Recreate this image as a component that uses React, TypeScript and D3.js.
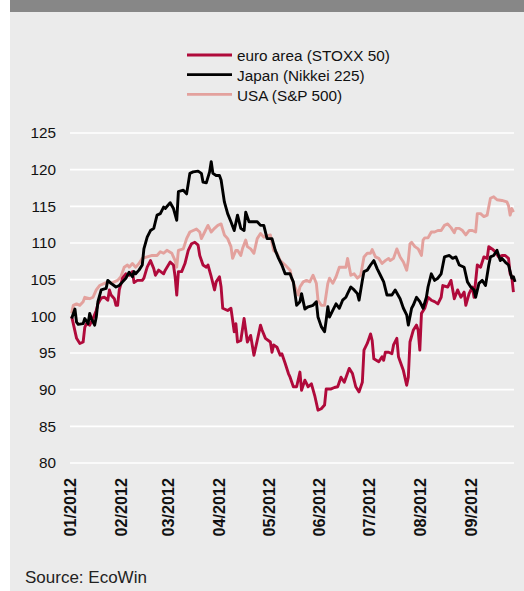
import React from "react";
import * as d3 from "d3";

// Index levels (date MM-DD in 2012, value)
const euroArea: [string, number][] = [
  ["01-02", 100.0], ["01-03", 99.0], ["01-05", 97.0], ["01-07", 96.3], ["01-09", 96.5],
  ["01-10", 98.5], ["01-11", 99.0], ["01-13", 98.8], ["01-15", 99.7], ["01-17", 100.8],
  ["01-18", 101.7], ["01-20", 102.5], ["01-22", 102.6], ["01-24", 102.2], ["01-25", 103.6],
  ["01-26", 102.9], ["01-28", 102.4], ["01-29", 101.5], ["01-30", 101.5], ["01-31", 103.6],
  ["02-02", 105.2], ["02-04", 105.8], ["02-06", 105.6], ["02-08", 106.1], ["02-09", 104.6],
  ["02-11", 104.9], ["02-14", 104.9], ["02-15", 105.2], ["02-17", 106.7], ["02-19", 107.6],
  ["02-21", 106.5], ["02-22", 105.6], ["02-24", 106.3], ["02-27", 105.8], ["02-28", 106.3],
  ["03-02", 107.4], ["03-04", 107.0], ["03-05", 105.4], ["03-06", 102.9], ["03-07", 106.1],
  ["03-09", 106.1], ["03-11", 107.2], ["03-13", 109.0], ["03-15", 109.9], ["03-17", 110.1],
  ["03-19", 109.7], ["03-20", 108.3], ["03-22", 107.0], ["03-24", 106.7], ["03-25", 107.0],
  ["03-27", 105.4], ["03-29", 103.6], ["03-30", 104.7], ["04-01", 105.4], ["04-02", 104.0],
  ["04-03", 101.1], ["04-06", 100.8], ["04-08", 101.1], ["04-10", 97.9], ["04-11", 99.0],
  ["04-12", 96.5], ["04-14", 96.7], ["04-16", 99.7], ["04-18", 96.5], ["04-20", 97.4],
  ["04-22", 94.7], ["04-24", 96.7], ["04-26", 98.8], ["04-27", 98.1], ["04-29", 97.0],
  ["05-02", 96.5], ["05-03", 95.1], ["05-04", 96.1], ["05-06", 95.8], ["05-08", 94.7],
  ["05-09", 94.9], ["05-11", 93.6], ["05-13", 92.2], ["05-14", 91.7], ["05-16", 90.4],
  ["05-18", 90.4], ["05-20", 92.4], ["05-21", 89.9], ["05-23", 91.3], ["05-25", 90.4],
  ["05-27", 90.8], ["05-29", 89.2], ["05-31", 87.2], ["06-02", 87.4], ["06-04", 87.9],
  ["06-05", 90.1], ["06-08", 90.1], ["06-10", 90.3], ["06-12", 90.4], ["06-14", 91.7],
  ["06-16", 91.0], ["06-19", 92.9], ["06-21", 92.2], ["06-23", 90.4], ["06-25", 89.7],
  ["06-27", 91.0], ["06-28", 95.4], ["06-30", 96.3], ["07-02", 97.6], ["07-03", 96.7],
  ["07-04", 94.2], ["07-07", 93.8], ["07-09", 94.5], ["07-10", 94.0], ["07-11", 95.1],
  ["07-13", 95.1], ["07-15", 94.9], ["07-16", 96.1], ["07-18", 97.0], ["07-19", 94.5],
  ["07-22", 92.6], ["07-24", 90.6], ["07-25", 91.7], ["07-26", 96.5], ["07-28", 98.1],
  ["07-30", 98.8], ["07-31", 98.1], ["08-01", 95.4], ["08-02", 100.4], ["08-04", 101.1],
  ["08-06", 102.6], ["08-08", 102.2], ["08-10", 102.0], ["08-12", 101.7], ["08-14", 102.6],
  ["08-15", 104.2], ["08-18", 104.0], ["08-20", 104.9], ["08-22", 102.4], ["08-24", 103.6],
  ["08-26", 102.6], ["08-28", 103.3], ["08-29", 101.5], ["08-31", 103.1], ["09-02", 104.0],
  ["09-03", 102.6], ["09-05", 107.0], ["09-07", 106.7], ["09-09", 108.1], ["09-11", 107.9],
  ["09-12", 109.5], ["09-14", 109.2], ["09-16", 108.8], ["09-18", 108.1], ["09-20", 108.3],
  ["09-22", 108.3], ["09-24", 107.9], ["09-25", 105.8], ["09-26", 105.4], ["09-27", 103.3],
];

const japan: [string, number][] = [
  ["01-02", 99.7], ["01-04", 101.0], ["01-05", 99.2], ["01-06", 98.9], ["01-09", 99.0],
  ["01-10", 99.7], ["01-12", 99.0], ["01-13", 100.4], ["01-14", 99.7], ["01-16", 98.8],
  ["01-17", 99.9], ["01-18", 102.0], ["01-20", 103.6], ["01-23", 103.8], ["01-24", 104.9],
  ["01-26", 104.5], ["01-29", 104.0], ["01-31", 104.2], ["02-02", 104.7], ["02-04", 105.2],
  ["02-06", 106.0], ["02-08", 105.4], ["02-09", 106.1], ["02-10", 105.8], ["02-12", 106.3],
  ["02-14", 107.0], ["02-15", 109.2], ["02-17", 110.8], ["02-19", 111.7], ["02-21", 112.0],
  ["02-22", 112.9], ["02-23", 113.8], ["02-25", 114.0], ["02-27", 114.9], ["02-28", 114.7],
  ["03-02", 115.5], ["03-04", 114.7], ["03-06", 113.1], ["03-07", 117.0], ["03-10", 117.2],
  ["03-12", 116.7], ["03-14", 119.5], ["03-16", 119.7], ["03-19", 119.8], ["03-21", 119.5],
  ["03-22", 118.3], ["03-24", 118.2], ["03-26", 119.7], ["03-27", 121.1], ["03-28", 119.5],
  ["03-30", 119.2], ["04-01", 119.2], ["04-02", 118.6], ["04-04", 115.6], ["04-06", 114.0],
  ["04-08", 112.9], ["04-10", 111.7], ["04-12", 113.8], ["04-14", 112.0], ["04-16", 111.7],
  ["04-17", 114.2], ["04-19", 112.9], ["04-22", 112.9], ["04-24", 112.9], ["04-26", 112.4],
  ["04-28", 112.4], ["04-30", 110.6], ["05-03", 110.6], ["05-05", 109.0], ["05-07", 107.9],
  ["05-09", 107.0], ["05-11", 105.8], ["05-14", 105.8], ["05-15", 105.2], ["05-16", 104.7],
  ["05-18", 101.5], ["05-20", 102.0], ["05-21", 103.1], ["05-23", 101.0], ["05-25", 101.3],
  ["05-28", 101.5], ["05-30", 102.0], ["05-31", 99.9], ["06-02", 98.6], ["06-04", 97.9],
  ["06-05", 99.5], ["06-06", 101.3], ["06-07", 99.9], ["06-09", 100.8], ["06-11", 101.7],
  ["06-13", 101.1], ["06-15", 102.2], ["06-17", 102.6], ["06-18", 103.1], ["06-20", 104.0],
  ["06-22", 103.6], ["06-24", 103.1], ["06-25", 102.2], ["06-27", 104.9], ["06-28", 106.1],
  ["06-30", 106.3], ["07-02", 107.0], ["07-04", 107.6], ["07-06", 106.5], ["07-08", 105.6],
  ["07-10", 104.7], ["07-12", 102.9], ["07-15", 102.9], ["07-17", 103.6], ["07-20", 102.4],
  ["07-22", 101.1], ["07-24", 100.2], ["07-25", 98.8], ["07-27", 101.1], ["07-28", 101.5],
  ["07-30", 102.6], ["08-01", 102.0], ["08-03", 101.1], ["08-05", 102.6], ["08-06", 104.0],
  ["08-08", 105.8], ["08-10", 104.9], ["08-12", 105.2], ["08-14", 105.8], ["08-16", 108.1],
  ["08-19", 108.3], ["08-21", 107.9], ["08-23", 108.1], ["08-25", 107.0], ["08-28", 106.7],
  ["08-30", 104.7], ["09-01", 104.0], ["09-03", 103.6], ["09-04", 102.6], ["09-06", 104.5],
  ["09-08", 104.9], ["09-10", 104.2], ["09-12", 107.0], ["09-13", 108.1], ["09-15", 108.3],
  ["09-17", 109.0], ["09-19", 107.6], ["09-20", 107.9], ["09-22", 107.4], ["09-24", 107.0],
  ["09-26", 105.2], ["09-27", 105.4], ["09-28", 104.7],
];

const usa: [string, number][] = [
  ["01-02", 100.4], ["01-03", 101.5], ["01-05", 101.7], ["01-07", 101.5], ["01-09", 102.0],
  ["01-10", 102.6], ["01-13", 102.4], ["01-15", 102.6], ["01-17", 103.6], ["01-19", 104.2],
  ["01-22", 104.5], ["01-24", 104.7], ["01-26", 104.5], ["01-28", 104.7], ["01-30", 104.9],
  ["02-01", 105.4], ["02-03", 106.7], ["02-05", 107.0], ["02-06", 106.7], ["02-08", 107.2],
  ["02-10", 106.7], ["02-12", 107.2], ["02-14", 107.9], ["02-17", 108.1], ["02-20", 108.3],
  ["02-23", 108.3], ["02-25", 108.8], ["02-27", 108.6], ["02-29", 109.0], ["03-03", 108.6],
  ["03-05", 107.6], ["03-06", 106.7], ["03-07", 109.0], ["03-10", 109.2], ["03-12", 110.6],
  ["03-14", 111.5], ["03-16", 111.7], ["03-18", 111.9], ["03-20", 111.5], ["03-21", 110.6],
  ["03-23", 111.5], ["03-25", 112.4], ["03-27", 111.5], ["03-29", 112.0], ["03-31", 112.4],
  ["04-02", 112.6], ["04-04", 111.1], ["04-06", 110.6], ["04-08", 109.5], ["04-09", 107.9],
  ["04-11", 109.0], ["04-12", 109.0], ["04-14", 108.3], ["04-15", 109.2], ["04-17", 110.4],
  ["04-18", 109.5], ["04-20", 109.2], ["04-22", 108.6], ["04-24", 110.6], ["04-26", 111.3],
  ["04-28", 110.8], ["05-02", 111.1], ["05-04", 109.0], ["05-06", 108.6], ["05-08", 107.6],
  ["05-11", 107.0], ["05-14", 106.3], ["05-15", 105.2], ["05-17", 104.0], ["05-19", 102.9],
  ["05-20", 104.0], ["05-22", 104.7], ["05-24", 104.9], ["05-26", 104.7], ["05-28", 105.6],
  ["05-30", 104.5], ["05-31", 102.2], ["06-02", 101.5], ["06-04", 101.5], ["06-06", 104.5],
  ["06-07", 105.2], ["06-09", 104.5], ["06-11", 105.4], ["06-13", 106.7], ["06-15", 106.7],
  ["06-17", 106.7], ["06-18", 107.9], ["06-20", 105.6], ["06-22", 105.8], ["06-24", 105.2],
  ["06-26", 105.6], ["06-28", 108.1], ["06-30", 108.6], ["07-02", 108.6], ["07-03", 109.1],
  ["07-05", 108.1], ["07-07", 107.9], ["07-09", 107.2], ["07-11", 107.6], ["07-13", 107.9],
  ["07-14", 107.6], ["07-16", 107.9], ["07-18", 109.2], ["07-20", 108.1], ["07-22", 107.4],
  ["07-24", 106.3], ["07-25", 107.6], ["07-26", 109.9], ["07-27", 110.1], ["07-29", 109.5],
  ["07-31", 109.2], ["08-02", 108.3], ["08-03", 110.4], ["08-04", 110.7], ["08-06", 110.7],
  ["08-08", 111.5], ["08-10", 111.5], ["08-12", 111.7], ["08-14", 111.7], ["08-16", 112.4],
  ["08-18", 112.6], ["08-20", 112.1], ["08-22", 111.4], ["08-23", 112.0], ["08-25", 112.0],
  ["08-27", 111.7], ["08-29", 111.1], ["08-31", 111.7], ["09-02", 111.7], ["09-04", 111.5],
  ["09-05", 114.0], ["09-07", 114.0], ["09-09", 113.6], ["09-11", 113.8], ["09-13", 116.1],
  ["09-15", 116.3], ["09-17", 115.9], ["09-20", 115.8], ["09-23", 115.6], ["09-24", 115.1],
  ["09-25", 113.8], ["09-26", 114.7], ["09-27", 114.2],
];

const seriesNames = ["euro area (STOXX 50)", "Japan (Nikkei 225)", "USA (S&P 500)"];
const seriesColors = ["#b00a3b", "#000000", "#e3a19d"];
const yTicks = [80, 85, 90, 95, 100, 105, 110, 115, 120, 125];

const W = 524;
const H = 591;
const font = "'Liberation Sans', Arial, Helvetica, sans-serif";

const parse = (s: string) => {
  const [m, d] = s.split("-").map(Number);
  return new Date(2012, m - 1, d);
};

export default function App() {
  const x = d3
    .scaleTime()
    .domain([new Date(2012, 0, 1), new Date(2012, 9, 1)])
    .range([70, 520]);
  const y = d3.scaleLinear().domain([80, 125]).range([463, 133]);
  const monthTicks = d3.timeMonth.range(new Date(2012, 0, 1), new Date(2012, 9, 1));
  const fmt = d3.timeFormat("%m/%Y");

  const line = d3
    .line<[string, number]>()
    .x((d) => x(parse(d[0])))
    .y((d) => y(d[1]));

  // draw order: USA behind, then euro area, Japan on top
  const layers = [
    { data: usa, color: seriesColors[2] },
    { data: euroArea, color: seriesColors[0] },
    { data: japan, color: seriesColors[1] },
  ];

  return (
    <div style={{ position: "absolute", left: 0, top: 0 }}>
      <svg width={W} height={H} style={{ display: "block" }}>
        <rect x={0} y={0} width={W} height={H} fill="#ffffff" />
        <rect x={10} y={0} width={W - 10} height={H} fill="#ebebeb" />
        <rect x={10} y={0} width={W - 10} height={12} fill="#878787" />

        {/* legend */}
        {seriesNames.map((name, i) => (
          <g key={name} transform={`translate(187,${55 + i * 19.7})`}>
            <line x1={0} x2={45} y1={0} y2={0} stroke={seriesColors[i]} strokeWidth={2.8} />
            <text x={50} y={6.3} fontFamily={font} fontSize={15.3} fill="#111">
              {name}
            </text>
          </g>
        ))}

        {/* grid + y labels */}
        {yTicks.map((t) => (
          <g key={t}>
            <line x1={70} x2={514} y1={y(t)} y2={y(t)} stroke="#ffffff" strokeWidth={1.7} />
            <text
              x={56}
              y={y(t)}
              dy="0.35em"
              textAnchor="end"
              fontFamily={font}
              fontSize={15.3}
              fill="#111"
            >
              {t}
            </text>
          </g>
        ))}

        {/* x labels */}
        {monthTicks.map((m) => (
          <text
            key={+m}
            transform={`translate(${x(m)},478) rotate(-90)`}
            dy="0.36em"
            textAnchor="end"
            fontFamily={font}
            fontSize={16.2}
            fontWeight="bold"
            fill="#111"
          >
            {fmt(m)}
          </text>
        ))}

        {/* lines */}
        {layers.map((l, i) => (
          <path
            key={i}
            d={line(l.data) || ""}
            fill="none"
            stroke={l.color}
            strokeWidth={2.9}
            strokeLinejoin="round"
          />
        ))}

        <text x={25} y={583} fontFamily={font} fontSize={17} fill="#222">
          Source: EcoWin
        </text>
      </svg>
    </div>
  );
}
